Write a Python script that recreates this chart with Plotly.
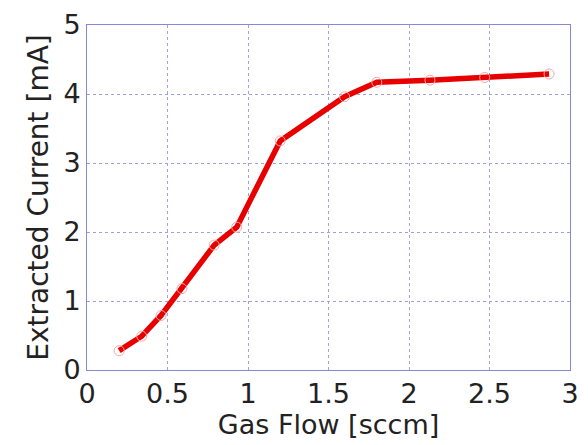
import plotly.graph_objects as go

gas_flow = [0.2, 0.34, 0.46, 0.59, 0.79, 0.93, 1.2, 1.6, 1.8, 2.13, 2.47, 2.87]
current = [0.28, 0.49, 0.79, 1.18, 1.81, 2.07, 3.32, 3.96, 4.17, 4.2, 4.24, 4.29]

fig = go.Figure()
fig.add_trace(go.Scatter(
    x=gas_flow, y=current, mode="lines+markers",
    line=dict(color="#e80000", width=5.5),
    marker=dict(symbol="circle-open", size=10, color="#f4a8a8", line=dict(width=1)),
))

font_family = "DejaVu Sans"
grid_color = "#a0a0e0"
fig.update_layout(
    width=588, height=445,
    margin=dict(l=87, r=9, t=24, b=75),
    paper_bgcolor="white", plot_bgcolor="white",
    showlegend=False,
    font=dict(family=font_family, color="#222222", size=28),
    xaxis=dict(
        range=[0, 3], tickvals=[0, 0.5, 1, 1.5, 2, 2.5, 3],
        ticktext=["0", "0.5", "1", "1.5", "2", "2.5", "3"],
        showgrid=True, gridcolor=grid_color, griddash="dot", gridwidth=1,
        showline=True, linecolor="#8888d8", linewidth=1, mirror=True,
        zeroline=False, ticks="", tickfont=dict(size=27),
        title=dict(text="Gas Flow [sccm]", font=dict(size=27), standoff=0),
    ),
    yaxis=dict(
        range=[0, 5], tickvals=[0, 1, 2, 3, 4, 5],
        showgrid=True, gridcolor=grid_color, griddash="dot", gridwidth=1,
        showline=True, linecolor="#8888d8", linewidth=1, mirror=True,
        zeroline=False, ticks="", tickfont=dict(size=27),
        title=dict(text="Extracted Current [mA]", font=dict(size=28), standoff=6),
    ),
)

fig.write_html("out.html")
